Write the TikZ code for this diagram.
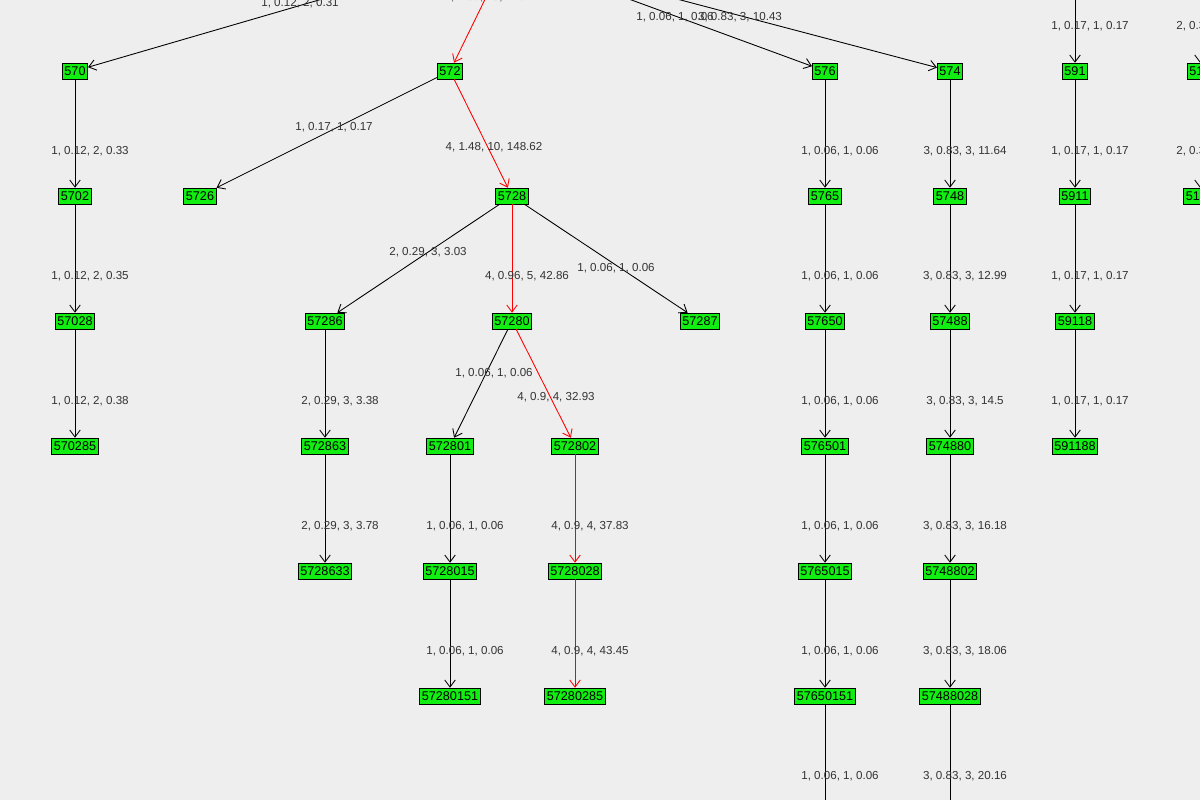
\documentclass[tikz,border=0pt]{standalone}
\usepackage{fontspec}
\setmainfont{Liberation Sans}
\usetikzlibrary{arrows.meta}
\definecolor{bg}{HTML}{EEEEEE}
\definecolor{leaf}{HTML}{11EE11}
\tikzstyle{site}=[rectangle, fill=leaf, draw=black, inner sep=1.2pt, minimum height=9pt, font=\fontsize{7.2}{8}\selectfont]
\tikzstyle{arrow}=[-{Straight Barb[length=4pt,width=6pt]}, draw=black, line width=0.5pt]
\tikzstyle{hot}=[arrow, draw=red]
\tikzstyle{lbl}=[font=\fontsize{6.6}{8}\selectfont, text=black!80, inner sep=0pt]

\begin{document}
\begin{tikzpicture}[x=0.02cm, y=-0.02cm]
            \fill [bg] (0,0) rectangle (1200,800);
            \useasboundingbox (0,0) rectangle (1200,800);
            \clip (0,0) rectangle (1200,800);

            % off-canvas ends
            \coordinate (r570) at (525,-60);
            \coordinate (r572) at (514,-60);
            \coordinate (r576) at (468,-60);
            \coordinate (r574) at (453,-60);
            \coordinate (r591) at (1075,-60);
            \coordinate (r517) at (1200,-60);
            \coordinate (e5765) at (825,860);
            \coordinate (e5748) at (950,860);

            \node [style=site] (570) at (75,71) {570};
            \node [style=site] (572) at (450,71) {572};
            \node [style=site] (576) at (825,71) {576};
            \node [style=site] (574) at (950,71) {574};
            \node [style=site] (591) at (1075,71) {591};
            \node [style=site] (517) at (1200,71) {517};

            \node [style=site] (5702) at (75,196) {5702};
            \node [style=site] (5726) at (200,196) {5726};
            \node [style=site] (5728) at (512,196) {5728};
            \node [style=site] (5765) at (825,196) {5765};
            \node [style=site] (5748) at (950,196) {5748};
            \node [style=site] (5911) at (1075,196) {5911};
            \node [style=site] (5171) at (1200,196) {5171};

            \node [style=site] (57028) at (75,321) {57028};
            \node [style=site] (57286) at (325,321) {57286};
            \node [style=site] (57280) at (512,321) {57280};
            \node [style=site] (57287) at (700,321) {57287};
            \node [style=site] (57650) at (825,321) {57650};
            \node [style=site] (57488) at (950,321) {57488};
            \node [style=site] (59118) at (1075,321) {59118};

            \node [style=site] (570285) at (75,446) {570285};
            \node [style=site] (572863) at (325,446) {572863};
            \node [style=site] (572801) at (450,446) {572801};
            \node [style=site] (572802) at (575,446) {572802};
            \node [style=site] (576501) at (825,446) {576501};
            \node [style=site] (574880) at (950,446) {574880};
            \node [style=site] (591188) at (1075,446) {591188};

            \node [style=site] (5728633) at (325,571) {5728633};
            \node [style=site] (5728015) at (450,571) {5728015};
            \node [style=site] (5728028) at (575,571) {5728028};
            \node [style=site] (5765015) at (825,571) {5765015};
            \node [style=site] (5748802) at (950,571) {5748802};

            \node [style=site] (57280151) at (450,696) {57280151};
            \node [style=site] (57280285) at (575,696) {57280285};
            \node [style=site] (57650151) at (825,696) {57650151};
            \node [style=site] (57488028) at (950,696) {57488028};

            \draw [style=arrow] (r570) to (570);
            \draw [style=hot] (r572) to (572);
            \draw [style=arrow] (r576) to (576);
            \draw [style=arrow] (r574) to (574);
            \draw [style=arrow] (r591) to (591);
            \draw [style=arrow] (r517) to (517);

            \draw [style=arrow] (570) to (5702);
            \draw [style=arrow] (5702) to (57028);
            \draw [style=arrow] (57028) to (570285);

            \draw [style=arrow] (572) to (5726);
            \draw [style=hot] (572) to (5728);
            \draw [style=arrow] (5728) to (57286);
            \draw [style=hot] (5728) to (57280);
            \draw [style=arrow] (5728) to (57287);
            \draw [style=arrow] (57286) to (572863);
            \draw [style=arrow] (572863) to (5728633);
            \draw [style=arrow] (57280) to (572801);
            \draw [style=hot] (57280) to (572802);
            \draw [style=arrow] (572801) to (5728015);
            \draw [style=arrow] (5728015) to (57280151);
            \draw [style=hot] (572802) to (5728028);
            \draw [style=hot] (5728028) to (57280285);

            \draw [style=arrow] (576) to (5765);
            \draw [style=arrow] (5765) to (57650);
            \draw [style=arrow] (57650) to (576501);
            \draw [style=arrow] (576501) to (5765015);
            \draw [style=arrow] (5765015) to (57650151);
            \draw [style=arrow] (57650151) to (e5765);

            \draw [style=arrow] (574) to (5748);
            \draw [style=arrow] (5748) to (57488);
            \draw [style=arrow] (57488) to (574880);
            \draw [style=arrow] (574880) to (5748802);
            \draw [style=arrow] (5748802) to (57488028);
            \draw [style=arrow] (57488028) to (e5748);

            \draw [style=arrow] (591) to (5911);
            \draw [style=arrow] (5911) to (59118);
            \draw [style=arrow] (59118) to (591188);
            \draw [style=arrow] (517) to (5171);

            % edge labels
            \node [style=lbl] at (300,3) {1, 0.12, 2, 0.31};
            \node [style=lbl] at (493,-3) {4, 1.86, 15, 216.47};
            \node [style=lbl] at (675,17) {1, 0.06, 1, 0.06};
            \node [style=lbl] at (740,17) {3, 0.83, 3, 10.43};
            \node [style=lbl] at (1090,26) {1, 0.17, 1, 0.17};
            \node [style=lbl] at (1215,26) {2, 0.33, 2, 0.33};
            \node [style=lbl] at (1215,151) {2, 0.33, 2, 0.33};
            \node [style=lbl] at (334,127) {1, 0.17, 1, 0.17};
            \node [style=lbl] at (494,147) {4, 1.48, 10, 148.62};
            \node [style=lbl] at (428,252) {2, 0.29, 3, 3.03};
            \node [style=lbl] at (527,276) {4, 0.96, 5, 42.86};
            \node [style=lbl] at (616,268) {1, 0.06, 1, 0.06};
            \node [style=lbl] at (494,373) {1, 0.06, 1, 0.06};
            \node [style=lbl] at (556,397) {4, 0.9, 4, 32.93};
            \foreach \y/\t in {151/0.33, 276/0.35, 401/0.38}
                \node [style=lbl] at (90,\y) {1, 0.12, 2, \t};
            \foreach \y/\t in {401/3.38, 526/3.78}
                \node [style=lbl] at (340,\y) {2, 0.29, 3, \t};
            \foreach \y in {526, 651}
                \node [style=lbl] at (465,\y) {1, 0.06, 1, 0.06};
            \foreach \y/\t in {526/37.83, 651/43.45}
                \node [style=lbl] at (590,\y) {4, 0.9, 4, \t};
            \foreach \y in {151, 276, 401, 526, 651, 776}
                \node [style=lbl] at (840,\y) {1, 0.06, 1, 0.06};
            \foreach \y/\t in {151/11.64, 276/12.99, 401/14.5, 526/16.18, 651/18.06, 776/20.16}
                \node [style=lbl] at (965,\y) {3, 0.83, 3, \t};
            \foreach \y in {151, 276, 401}
                \node [style=lbl] at (1090,\y) {1, 0.17, 1, 0.17};
        \end{tikzpicture}
\end{document}
